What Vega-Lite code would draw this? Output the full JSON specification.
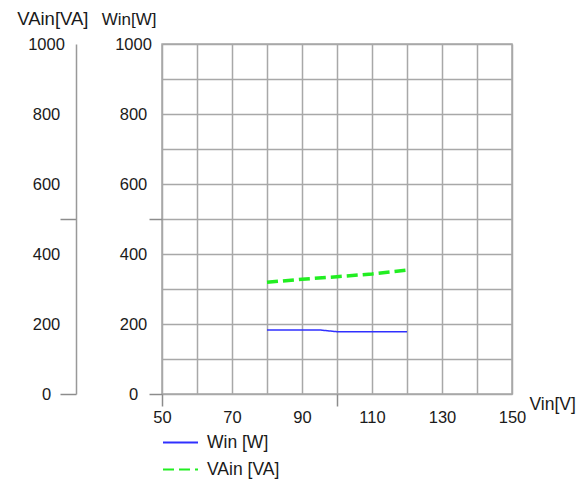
{
  "$schema": "https://vega.github.io/schema/vega-lite/v6.json",
  "width": 350,
  "height": 350,
  "autosize": {"type": "none"},
  "padding": {"left": 162, "top": 44, "right": 73, "bottom": 87},
  "background": "white",
  "config": {
    "font": "Liberation Sans",
    "view": {"stroke": "#a8a8a8", "strokeWidth": 1.5},
    "axis": {
      "labelFont": "Liberation Sans",
      "labelFontSize": 16.5,
      "labelColor": "#1a1a1a",
      "titleFont": "Liberation Sans",
      "titleFontSize": 17,
      "titleFontWeight": "normal",
      "titleColor": "#1a1a1a",
      "domainColor": "#999999",
      "domainWidth": 1.5,
      "gridColor": "#a8a8a8",
      "gridWidth": 1.5,
      "tickColor": "#8c8c8c",
      "tickWidth": 1.5,
      "labelOverlap": false,
      "labelFlush": false,
      "labelBound": false,
      "format": "d"
    },
    "legend": {
      "orient": "none",
      "legendX": 0,
      "legendY": 380,
      "title": null,
      "padding": 0,
      "symbolType": "stroke",
      "symbolSize": 1225,
      "symbolStrokeWidth": 2,
      "labelFont": "Liberation Sans",
      "labelFontSize": 17.5,
      "labelColor": "#1a1a1a",
      "labelOffset": 8,
      "rowPadding": -9
    }
  },
  "data": {
    "values": [
      {"Vin": 80, "series": "Win [W]", "value": 183},
      {"Vin": 90, "series": "Win [W]", "value": 183},
      {"Vin": 95, "series": "Win [W]", "value": 183},
      {"Vin": 100, "series": "Win [W]", "value": 178},
      {"Vin": 110, "series": "Win [W]", "value": 178},
      {"Vin": 120, "series": "Win [W]", "value": 178},
      {"Vin": 80, "series": "VAin [VA]", "value": 319},
      {"Vin": 90, "series": "VAin [VA]", "value": 328},
      {"Vin": 100, "series": "VAin [VA]", "value": 335},
      {"Vin": 110, "series": "VAin [VA]", "value": 343},
      {"Vin": 120, "series": "VAin [VA]", "value": 354}
    ]
  },
  "layer": [
    {
      "transform": [{"filter": "datum.series === 'Win [W]'"}],
      "mark": {"type": "line", "strokeWidth": 1.5},
      "encoding": {
        "x": {
          "field": "Vin",
          "type": "quantitative",
          "scale": {"domain": [50, 150], "nice": false, "zero": false},
          "axis": {
            "orient": "bottom",
            "title": null,
            "values": [50, 60, 70, 80, 90, 100, 110, 120, 130, 140, 150],
            "labels": false,
            "ticks": false,
            "domain": false,
            "grid": true
          }
        },
        "y": {
          "field": "value",
          "type": "quantitative",
          "scale": {"domain": [0, 1000], "nice": false},
          "axis": {
            "orient": "left",
            "title": null,
            "values": [0, 100, 200, 300, 400, 500, 600, 700, 800, 900, 1000],
            "labels": false,
            "ticks": false,
            "domain": false,
            "grid": true
          }
        },
        "color": {
          "field": "series",
          "type": "nominal",
          "scale": {"domain": ["Win [W]", "VAin [VA]"], "range": ["#3030ff", "#22ee22"]}
        },
        "strokeDash": {
          "field": "series",
          "type": "nominal",
          "scale": {"domain": ["Win [W]", "VAin [VA]"], "range": [[1, 0], [11, 5]]}
        }
      }
    },
    {
      "transform": [{"filter": "datum.series === 'VAin [VA]'"}],
      "mark": {"type": "line", "strokeWidth": 3.5},
      "encoding": {
        "x": {
          "field": "Vin",
          "type": "quantitative",
          "scale": {"domain": [50, 150], "nice": false, "zero": false},
          "axis": {
            "orient": "bottom",
            "title": "Vin[V]",
            "titleFontSize": 17.5,
            "values": [50, 60, 70, 80, 90, 100, 110, 120, 130, 140, 150],
            "labelExpr": "(datum.value - 50) % 20 === 0 ? datum.label : ''",
            "tickOpacity": {"condition": {"test": "datum.value === 50 || datum.value === 100", "value": 1}, "value": 0},
            "tickSize": 12,
            "labelPadding": 3,
            "labelBaseline": "top",
            "grid": false,
            "domain": false,
            "titleAngle": 0,
            "titleAlign": "left",
            "titleBaseline": "alphabetic",
            "titleX": 367,
            "titleY": 15
          }
        },
        "y": {
          "field": "value",
          "type": "quantitative",
          "scale": {"domain": [0, 1000], "nice": false},
          "axis": {
            "title": "VAin[VA]",
            "titleFontSize": 18.5,
            "orient": "left",
            "offset": 86,
            "values": [0, 200, 400, 500, 600, 800, 1000],
            "labelExpr": "datum.value % 200 === 0 ? datum.label : ''",
            "tickOpacity": {"condition": {"test": "datum.value === 0 || datum.value === 500", "value": 1}, "value": 0},
            "tickSize": 16,
            "labelPadding": 14,
            "labelAlign": "center",
            "labelBaseline": "middle",
            "grid": false,
            "domain": true,
            "titleAngle": 0,
            "titleAlign": "right",
            "titleBaseline": "alphabetic",
            "titleX": 12,
            "titleY": -20
          }
        },
        "color": {
          "field": "series",
          "type": "nominal",
          "scale": {"domain": ["Win [W]", "VAin [VA]"], "range": ["#3030ff", "#22ee22"]}
        },
        "strokeDash": {
          "field": "series",
          "type": "nominal",
          "scale": {"domain": ["Win [W]", "VAin [VA]"], "range": [[1, 0], [11, 5]]}
        }
      }
    },
    {
      "transform": [{"filter": "datum.series === 'Win [W]'"}],
      "mark": {"type": "line", "strokeWidth": 1.5, "opacity": 0, "color": "#3030ff"},
      "encoding": {
        "x": {
          "field": "Vin",
          "type": "quantitative",
          "scale": {"domain": [50, 150], "nice": false, "zero": false},
          "axis": null
        },
        "y": {
          "field": "value",
          "type": "quantitative",
          "scale": {"domain": [0, 1000], "nice": false},
          "axis": {
            "title": "Win[W]",
            "orient": "left",
            "values": [0, 100, 200, 300, 400, 500, 600, 700, 800, 900, 1000],
            "labelExpr": "datum.value % 200 === 0 ? datum.label : ''",
            "tickOpacity": {"condition": {"test": "datum.value === 0 || datum.value === 500", "value": 1}, "value": 0},
            "tickSize": 13,
            "labelPadding": 16,
            "labelAlign": "center",
            "labelBaseline": "middle",
            "grid": false,
            "domain": false,
            "titleAngle": 0,
            "titleAlign": "right",
            "titleBaseline": "alphabetic",
            "titleX": -6,
            "titleY": -20
          }
        }
      }
    }
  ],
  "resolve": {"scale": {"y": "independent"}, "axis": {"x": "independent", "y": "independent"}}
}
